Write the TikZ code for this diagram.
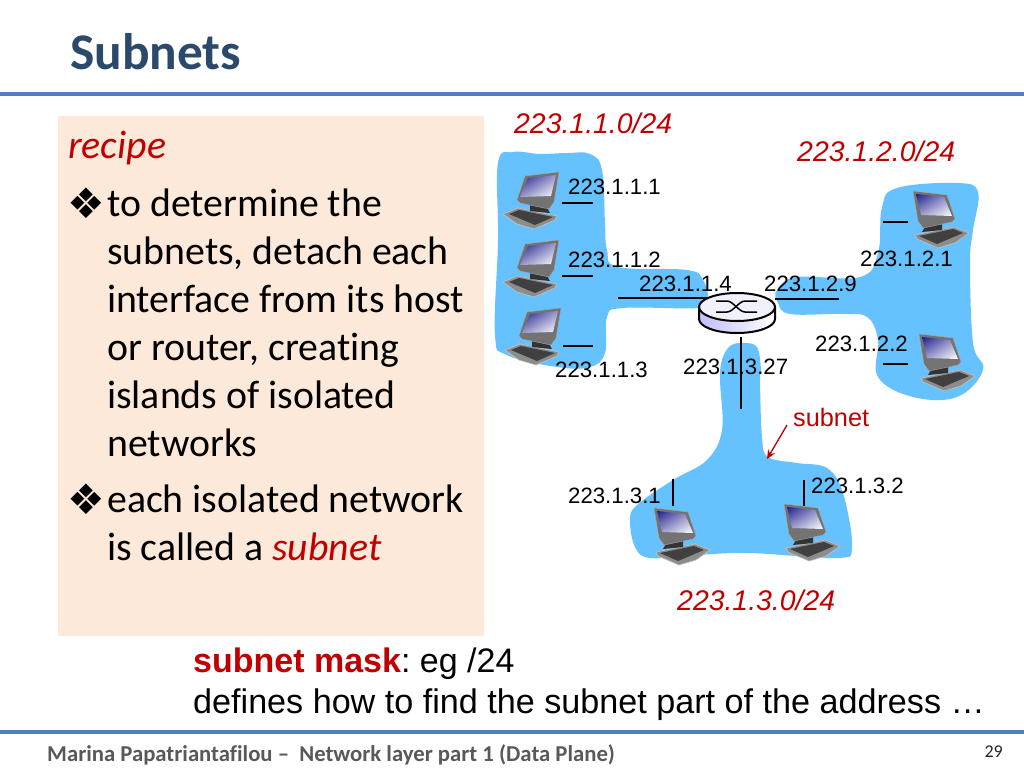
\documentclass[tikz,border=0pt]{standalone}
\usepackage{fontspec}
\usetikzlibrary{arrows.meta,shadings}
\setmainfont{Carlito}[Ligatures=NoCommon]
\newfontfamily\arialf{Liberation Sans}
\newfontfamily\dejaf{DejaVu Sans}
\definecolor{titleblue}{HTML}{2B4A6B}
\definecolor{rulec}{HTML}{4F81BD}
\definecolor{boxc}{HTML}{FCE9DA}
\definecolor{blobc}{HTML}{66C2FF}
\definecolor{redc}{HTML}{C00000}
\definecolor{footc}{HTML}{595959}
\definecolor{routerc}{HTML}{E8E8FA}
\definecolor{navyc}{HTML}{1E1E8C}
\tikzset{
  x=1pt,y=-1pt,
  blobshape/.style={fill=blobc,draw=none},
  wire/.style={line width=1.8pt,black},
  rulel/.style={draw=rulec,line width=3.2pt},
  bodytext/.style={anchor=base west,inner sep=0pt,font=\fontsize{39.8}{40}\selectfont,black},
  bullmark/.style={anchor=base west,inner sep=0pt,font=\dejaf\fontsize{42}{42}\selectfont,black},
  iplabel/.style={anchor=base west,inner sep=0pt,font=\arialf\fontsize{22.2}{22}\selectfont,black},
  prefixlabel/.style={anchor=base west,inner sep=0pt,font=\arialf\itshape\fontsize{28.4}{28.4}\selectfont,redc},
  pics/comp/.style={code={
    % keyboard
    \fill[black!45!white,draw=black!25!white,line width=.7pt] (-22,38) -- (-7,32) -- (32,40) -- (30,44) -- (9,53) -- (-8,48) -- cycle;
    \fill[black!75!white] (-16,38) -- (-6,34) -- (28,41) -- (10,49) -- cycle;
    % stand
    \fill[black!80!white] (5,28) -- (22,32) -- (25,37) -- (5,35) -- cycle;
    % monitor
    \fill[black!55!white,draw=black!35!white,line width=.4pt] (0,0) -- (34,-4) -- (29,26) -- (24,33) -- (-5,27) -- (-8,24) -- cycle;
    \shade[upper left=navyc,upper right=navyc!45!white,lower left=navyc!45!white,lower right=white] (3,2) -- (31,-1) -- (26,20) -- (-5,21) -- cycle;
  }},
}
\begin{document}
\begin{tikzpicture}
\useasboundingbox (0,0) rectangle (1024,768);
\fill[white] (0,0) rectangle (1024,768);
% title and rules
\node[anchor=base west,inner sep=0pt,font=\bfseries\fontsize{51.4}{52}\selectfont,titleblue] (title) at (70,69) {Subnets};
\draw[rulel] (0,94) -- (1024,94);
\draw[rulel] (0,732) -- (1024,732);
% recipe box
\fill[boxc] (58,116) rectangle (484,636);
\node[bodytext,font=\itshape\fontsize{39.8}{40}\selectfont,redc] (recipe) at (68,158) {recipe};
\node[bullmark] (b1) at (67,218) {❖};
\node[bodytext] (l1) at (107,216) {to determine the};
\node[bodytext] (l2) at (107,264) {subnets, detach each};
\node[bodytext] (l3) at (107,312) {interface from its host};
\node[bodytext] (l4) at (107,360) {or router, creating};
\node[bodytext] (l5) at (107,408) {islands of isolated};
\node[bodytext] (l6) at (107,456) {networks};
\node[bullmark] (b2) at (67,514) {❖};
\node[bodytext] (l7) at (107,512) {each isolated network};
\node[bodytext] (l8) at (107,560) {is called a {\color{redc}\itshape subnet}};
% blobs
\fill[blobshape] plot[smooth cycle,tension=.65] coordinates {(498,163)(513,152)(540,154)(567,153)(590,154)(602,170)(605,223)(607,250)(618,267)(687,270)(703,280)(708,300)(698,308)(623,308)(607,317)(605,353)(590,367)(557,367)(507,355)(495,335)(498,240)};
\fill[blobshape] plot[smooth cycle,tension=.65] coordinates {(777,290)(797,277)(860,277)(878,253)(882,207)(897,188)(957,183)(978,192)(973,230)(970,263)(973,343)(983,370)(957,397)(913,397)(878,377)(878,340)(867,317)(840,314)(790,314)(778,303)};
\fill[blobshape] plot[smooth cycle,tension=.6] coordinates {(722,360)(730,346)(743,343)(757,347)(761,370)(760,380)(762,437)(768,457)(797,463)(827,468)(843,493)(852,547)(837,558)(750,553)(697,555)(650,558)(635,547)(630,520)(637,505)(673,480)(707,460)(722,430)(720,380)};
% computers
\pic at (525,176) {comp};
\pic at (525,244) {comp};
\pic at (527,312) {comp};
\pic[xscale=-1] at (947,195) {comp};
\pic[xscale=-1] at (953,338) {comp};
\pic[xscale=-1] at (688,512) {comp};
\pic[xscale=-1] at (818,508) {comp};
% wires
\draw[wire] (562,203) -- (593,203);
\draw[wire] (562,276) -- (593,276);
\draw[wire] (563,346) -- (593,346);
\draw[wire] (618,298) -- (707,298);
\draw[wire] (883,222) -- (908,222);
\draw[wire] (883,364) -- (908,364);
\draw[wire] (775,299) -- (839,299);
\draw[wire] (741,337) -- (741,409);
\draw[wire] (673,479) -- (673,506);
\draw[wire] (804,480) -- (804,506);
% router
\shade[left color=routerc!70!blue!70!white,right color=white] (699,307) -- (699,319) arc[start angle=180,end angle=360,x radius=38,y radius=-14] -- (775,307) -- cycle;
\draw[black,line width=2pt] (699,307) -- (699,319) arc[start angle=180,end angle=360,x radius=38,y radius=-14] -- (775,307);
\filldraw[fill=routerc!60!white,draw=black,line width=2pt] (737,307) ellipse[x radius=38,y radius=14];
\draw[black,line width=1.5pt] (716,301) -- (727,301) .. controls (733,301) and (739,312) .. (745,312) -- (757,312);
\draw[black,line width=1.5pt] (716,312) -- (727,312) .. controls (733,312) and (739,301) .. (745,301) -- (757,301);
% labels
\node[prefixlabel] (p1) at (514,133) {223.1.1.0/24};
\node[prefixlabel] (p2) at (797,161) {223.1.2.0/24};
\node[prefixlabel] (p3) at (677,610) {223.1.3.0/24};
\node[iplabel] (a1) at (568,194) {223.1.1.1};
\node[iplabel] (a2) at (568,267) {223.1.1.2};
\node[iplabel] (a3) at (555,377) {223.1.1.3};
\node[iplabel] (a4) at (639,291) {223.1.1.4};
\node[iplabel] (a5) at (860,266) {223.1.2.1};
\node[iplabel] (a6) at (815,351) {223.1.2.2};
\node[iplabel] (a7) at (764,291) {223.1.2.9};
\node[iplabel] (a8) at (683,374) {223.1.3.27};
\node[iplabel] (a9) at (568,503) {223.1.3.1};
\node[iplabel] (a10) at (811,493) {223.1.3.2};
\node[anchor=base west,inner sep=0pt,font=\arialf\fontsize{25.3}{25}\selectfont,redc] (sub) at (793,426) {subnet};
\coordinate (subtip) at (767,459);
\draw[redc,line width=1.3pt,-{Stealth[length=9pt,width=8pt]}] (787,425) -- (subtip);
% bottom text
\node[anchor=base west,inner sep=0pt,font=\arialf\fontsize{34}{34}\selectfont,black] (m1) at (193,672) {\frenchspacing{\bfseries\color{redc}subnet mask}: eg /24};
\node[anchor=base west,inner sep=0pt,font=\arialf\fontsize{34.15}{34}\selectfont,black] (m2) at (193,713) {defines how to find the subnet part of the address …};
% footer
\node[anchor=base west,inner sep=0pt,font=\bfseries\fontsize{22.7}{23}\selectfont,footc] (foot) at (47,761) {Marina Papatriantafilou –\ \ Network layer part 1 (Data Plane)};
\node[anchor=base east,inner sep=0pt,font=\fontsize{18}{18}\selectfont,black!85!white] (pg) at (1003,757) {29};
\end{tikzpicture}
\end{document}
